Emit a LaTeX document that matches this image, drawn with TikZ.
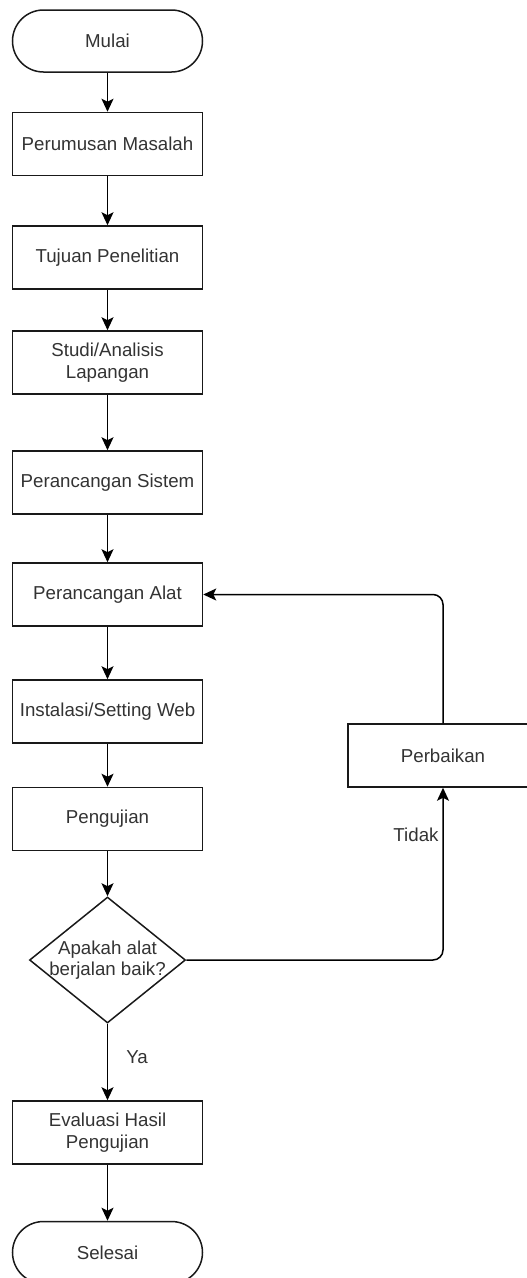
\documentclass[tikz,border=0pt]{standalone}
\usepackage{fontspec}
\setmainfont{Liberation Sans}
\usepackage{tikz}
\usetikzlibrary{shapes.geometric,arrows.meta,positioning}

\begin{document}
\begin{tikzpicture}[
    x=1pt, y=-1pt,
    font=\fontsize{18.7}{21.5}\selectfont,
    every node/.style={text=black!80},
    proses/.style={draw=black!90, line width=1.5pt, minimum width=190pt, minimum height=63pt, inner sep=2pt, align=center},
    terminal/.style={draw=black!90, line width=1.5pt, rounded corners=31pt, minimum width=190pt, minimum height=62pt},
    keputusan/.style={draw=black!90, line width=1.5pt, diamond, minimum width=156pt, minimum height=126pt, inner sep=0pt},
    panah/.style={draw=black, line width=1.5pt, -{Stealth[length=13pt,width=12pt,inset=3pt]}},
    ket/.style={inner sep=0pt}
]
    \useasboundingbox (0,0) rectangle (527,1278);

    % alur utama
    \node[terminal] (mulai) at (107.5,41) {Mulai};
    \node[proses] (rumusan) at (107.5,144) {Perumusan Masalah};
    \node[proses] (tujuan) at (107.5,257.5) {Tujuan Penelitian};
    \node[proses] (studi) at (107.5,362.5) {Studi/Analisis\\Lapangan};
    \node[proses] (sistem) at (107.5,482.5) {Perancangan Sistem};
    \node[proses] (alat) at (107.5,594.5) {Perancangan Alat};
    \node[proses] (web) at (107.5,711.5) {Instalasi/Setting Web};
    \node[proses] (uji) at (107.5,819) {Pengujian};
    \node[keputusan] (cek) at (107.5,960) {};
    \node[align=center, inner sep=0pt] (cekteks) at (cek.center) {Apakah alat\\berjalan baik?};
    \node[proses] (evaluasi) at (107.5,1132.5) {Evaluasi Hasil\\Pengujian};
    \node[terminal] (selesai) at (107.5,1252.5) {Selesai};

    % cabang perbaikan
    \node[proses] (perbaikan) at (443,755.5) {Perbaikan};

    \draw[panah] (mulai) -- (rumusan);
    \draw[panah] (rumusan) -- (tujuan);
    \draw[panah] (tujuan) -- (studi);
    \draw[panah] (studi) -- (sistem);
    \draw[panah] (sistem) -- (alat);
    \draw[panah] (alat) -- (web);
    \draw[panah] (web) -- (uji);
    \draw[panah] (uji) -- (cek);
    \draw[panah] (cek) -- (evaluasi);
    \draw[panah] (evaluasi) -- (selesai);
    \draw[panah, rounded corners=10pt] (cek.east) -| (perbaikan.south);
    \draw[panah, rounded corners=10pt] (perbaikan.north) |- (alat.east);

    \node[ket] (ya) at (137,1057) {Ya};
    \node[ket] (tidak) at (416,835) {Tidak};
\end{tikzpicture}
\end{document}
